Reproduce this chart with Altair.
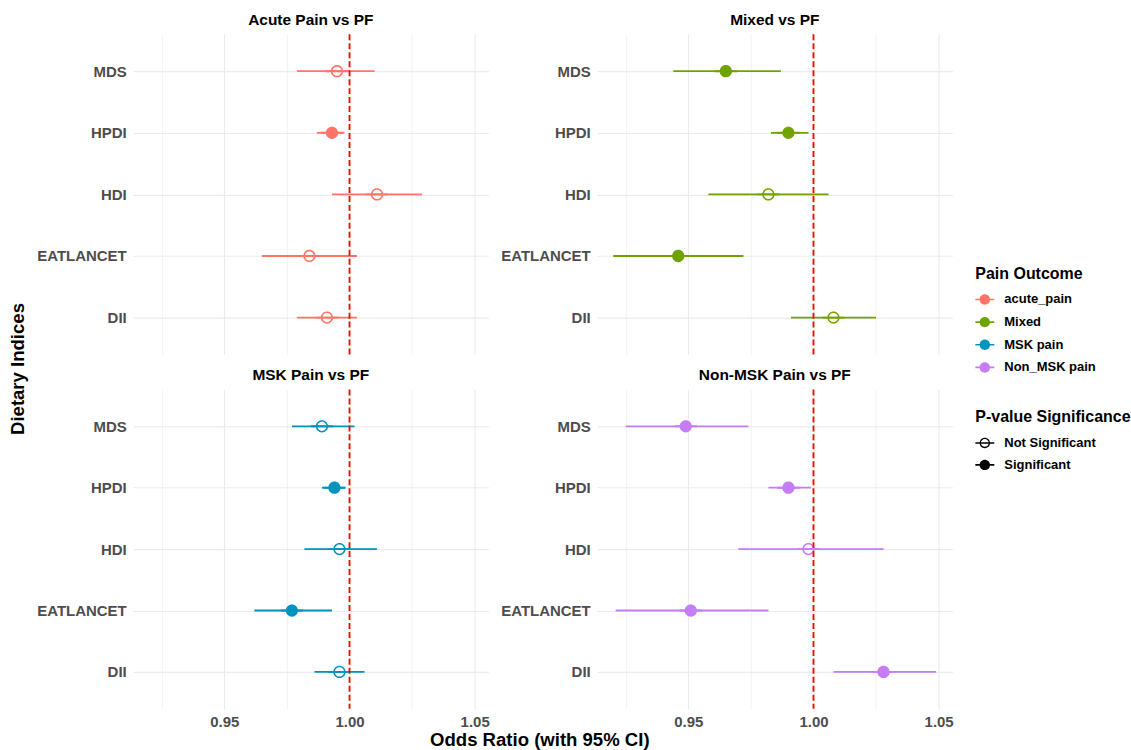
import altair as alt
import pandas as pd

# ---------------- data ----------------
indices = ["MDS", "HPDI", "HDI", "EATLANCET", "DII"]
outcomes = ["acute_pain", "Mixed", "MSK pain", "Non_MSK pain"]
panel_titles = ["Acute Pain vs PF", "Mixed vs PF", "MSK Pain vs PF", "Non-MSK Pain vs PF"]
outcome_colors = ["#FF7466", "#70A200", "#0093BF", "#C67BF7"]
sig_levels = ["Not Significant", "Significant"]

acute_or = [0.995, 0.993, 1.011, 0.984, 0.991]
acute_lo = [0.979, 0.987, 0.993, 0.965, 0.979]
acute_hi = [1.010, 0.998, 1.029, 1.003, 1.003]
acute_sig = ["Not Significant", "Significant", "Not Significant", "Not Significant", "Not Significant"]

mixed_or = [0.965, 0.990, 0.982, 0.946, 1.008]
mixed_lo = [0.944, 0.983, 0.958, 0.920, 0.991]
mixed_hi = [0.987, 0.998, 1.006, 0.972, 1.025]
mixed_sig = ["Significant", "Significant", "Not Significant", "Significant", "Not Significant"]

msk_or = [0.989, 0.994, 0.996, 0.977, 0.996]
msk_lo = [0.977, 0.989, 0.982, 0.962, 0.986]
msk_hi = [1.002, 0.998, 1.011, 0.993, 1.006]
msk_sig = ["Not Significant", "Significant", "Not Significant", "Significant", "Not Significant"]

nonmsk_or = [0.949, 0.990, 0.998, 0.951, 1.028]
nonmsk_lo = [0.925, 0.982, 0.970, 0.921, 1.008]
nonmsk_hi = [0.974, 0.999, 1.028, 0.982, 1.049]
nonmsk_sig = ["Significant", "Significant", "Not Significant", "Significant", "Significant"]

x_domain = [0.9136, 1.0555]
x_tick_values = [0.925, 0.95, 0.975, 1.0, 1.025, 1.05]
reference_value = [1.0]

panels_data = [
    (acute_or, acute_lo, acute_hi, acute_sig),
    (mixed_or, mixed_lo, mixed_hi, mixed_sig),
    (msk_or, msk_lo, msk_hi, msk_sig),
    (nonmsk_or, nonmsk_lo, nonmsk_hi, nonmsk_sig),
]

# ---------------- symbols ----------------
BAR = "M-1,-0.085H1V0.085H-1Z"
DISC = BAR + "M0.55,0A0.55,0.55,0,1,1,-0.55,0A0.55,0.55,0,1,1,0.55,0Z"
RING = (BAR + "M0.55,0A0.55,0.55,0,1,1,-0.55,0A0.55,0.55,0,1,1,0.55,0Z"
        + "M0.41,0A0.41,0.41,0,1,0,-0.41,0A0.41,0.41,0,1,0,0.41,0Z")

FONT = "Liberation Sans"
LABELED = "datum.value == 0.95 || datum.value == 1 || datum.value == 1.05"

color_legend = alt.Legend(
    title="Pain Outcome", orient="none", legendX=844, legendY=232.5,
    symbolType=DISC, symbolSize=361, symbolStrokeWidth=0,
    titleFontSize=16, titleFont=FONT, titleFontWeight="bold", titleColor="black",
    labelFontSize=13, labelFont=FONT, labelFontWeight="bold", labelColor="black",
    labelOffset=10, rowPadding=5.7, titlePadding=7.8, padding=0, direction="vertical",
)
shape_legend = alt.Legend(
    title="P-value Significance", orient="none", legendX=844, legendY=375.5,
    symbolSize=361, symbolFillColor="black", symbolStrokeWidth=0,
    titleFontSize=16, titleFont=FONT, titleFontWeight="bold", titleColor="black",
    labelFontSize=13, labelFont=FONT, labelFontWeight="bold", labelColor="black",
    labelOffset=10, rowPadding=5, titlePadding=8.6, padding=0, direction="vertical",
)

color_scale = alt.Scale(domain=outcomes, range=outcome_colors)
shape_scale = alt.Scale(domain=sig_levels, range=[RING, DISC])


def make_panel(k):
    top = k < 2
    left = k % 2 == 0
    o, lo, hi, sig = panels_data[k]
    df = pd.DataFrame({
        "Index": indices, "OR": o, "lo": lo, "hi": hi, "sig": sig,
        "outcome": [outcomes[k]] * len(indices),
    })
    ref_df = pd.DataFrame({"ref": reference_value})

    xs = alt.Scale(domain=x_domain, nice=False, zero=False)
    grid_w = {"condition": {"test": LABELED, "value": 1.1}, "value": 0.6}
    if top:
        xaxis = alt.Axis(values=x_tick_values, labels=False, ticks=False, domain=False, title=None,
                         gridColor="#EBEBEB", gridWidth=grid_w)
    else:
        ax_kwargs = dict(
            values=x_tick_values, ticks=False, tickSize=0, domain=False,
            labelExpr=LABELED + " ? format(datum.value, '.2f') : ''",
            labelFont=FONT, labelFontSize=15, labelFontWeight="bold", labelColor="#4D4D4D",
            labelPadding=5.7, gridColor="#EBEBEB", gridWidth=grid_w,
        )
        if left:
            xaxis = alt.Axis(title="Odds Ratio (with 95% CI)", titleX=407, titleY=31,
                             titleBaseline="middle", titleAlign="center",
                             titleFont=FONT, titleFontSize=18.6, titleFontWeight="bold",
                             titleColor="black", **ax_kwargs)
        else:
            xaxis = alt.Axis(title=None, **ax_kwargs)

    y_kwargs = dict(ticks=False, tickSize=0, domain=False, grid=True, labelFont=FONT, labelFontSize=15,
                    labelFontWeight="bold", labelColor="#4D4D4D", labelPadding=7,
                    gridColor="#EBEBEB", gridWidth=1.1)
    if k == 0:
        yaxis = alt.Axis(title="Dietary Indices", titleX=-115.5, titleY=335, titleAngle=270,
                         titleBaseline="middle", titleAlign="center",
                         titleFont=FONT, titleFontSize=18.6, titleFontWeight="bold",
                         titleColor="black", **y_kwargs)
    else:
        yaxis = alt.Axis(title=None, **y_kwargs)

    ys = alt.Scale(type="point", padding=0.6, domain=indices)
    y = alt.Y("Index:N", scale=ys, axis=yaxis, sort=indices)

    ci = alt.Chart(df).mark_rule(strokeWidth=1.8, color=outcome_colors[k]).encode(
        y=y,
        x=alt.X("lo:Q", scale=xs, axis=xaxis),
        x2="hi:Q",
    )
    pts = alt.Chart(df).mark_point(filled=True, size=500, opacity=1).encode(
        y=y,
        x=alt.X("OR:Q", scale=xs, axis=xaxis),
        color=alt.Color("outcome:N", scale=color_scale, legend=color_legend),
        shape=alt.Shape("sig:N", scale=shape_scale, legend=shape_legend),
    )
    ref = alt.Chart(ref_df).mark_rule(color="#FF0000", strokeDash=[6, 3], strokeWidth=1.8).encode(
        x=alt.X("ref:Q", scale=xs, axis=xaxis),
    )
    h = 321 if top else 320
    return alt.layer(ci, pts, ref).properties(
        width=356, height=h,
        title=alt.TitleParams(panel_titles[k], font=FONT, fontSize=15.5, fontWeight="bold",
                              color="black", anchor="middle", offset=5),
    )


chart = alt.concat(
    *[make_panel(k) for k in range(4)],
    columns=2,
    spacing={"row": 35, "column": 109},
    bounds="flush",
).resolve_scale(
    color="shared", shape="shared", x="independent", y="independent"
).properties(
    padding={"left": 8.5, "top": 11.5, "right": 0, "bottom": 0},
    background="white",
).configure_view(
    strokeWidth=0
)

chart.save("out.html", embed_options={"renderer": "svg", "actions": False})
